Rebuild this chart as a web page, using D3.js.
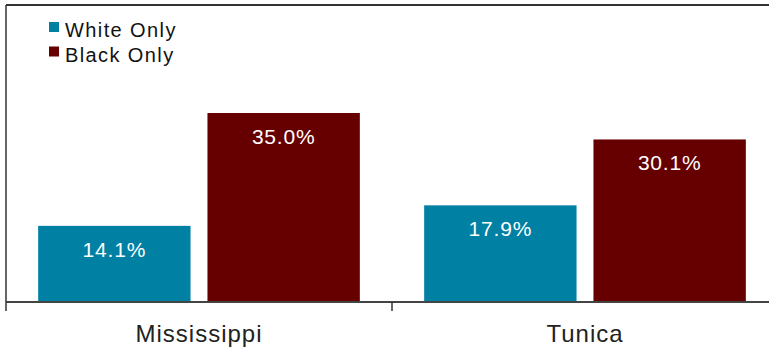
<!DOCTYPE html>
<html><head><meta charset="utf-8">
<script src="https://cdn.jsdelivr.net/npm/d3@7"></script>
<style>body{margin:0;background:#fff;}svg{display:block;font-family:"Liberation Sans",Arial,sans-serif;}</style>
</head><body>
<svg id="c" width="769" height="351"></svg>
<script>
const categories = ["Mississippi", "Tunica"];
const seriesNames = ["White Only", "Black Only"];
const whiteOnly = [14.1, 17.9];
const blackOnly = [35.0, 30.1];
const colors = ["#0080a3", "#660000"];

const svg = d3.select("#c");
const pLeft = 6, pRight = 778, pTop = 5, pBottom = 302;
const x0 = d3.scaleBand().domain(categories).range([pLeft, pRight]).paddingInner(0).paddingOuter(0);
const x1 = d3.scaleBand().domain(seriesNames).range([0, x0.bandwidth()]).paddingInner(0.1).paddingOuter(0.19);
const y = d3.scaleLinear().domain([0, 55]).range([pBottom, pTop]);

const series = [whiteOnly, blackOnly];
const data = [];
categories.forEach((c, i) => seriesNames.forEach((s, j) => data.push({c, s, j, v: series[j][i]})));

svg.selectAll("rect.bar").data(data).enter().append("rect")
  .attr("class", "bar")
  .attr("x", d => x0(d.c) + x1(d.s))
  .attr("width", x1.bandwidth())
  .attr("y", d => y(d.v))
  .attr("height", d => y(0) - y(d.v))
  .attr("fill", d => colors[d.j]);

svg.selectAll("text.val").data(data).enter().append("text")
  .attr("x", d => x0(d.c) + x1(d.s) + x1.bandwidth() / 2)
  .attr("y", d => y(d.v) + 31)
  .attr("text-anchor", "middle")
  .attr("fill", "#fff")
  .attr("font-size", 21)
  .attr("letter-spacing", 0.8)
  .text(d => d.v.toFixed(1) + "%");

// frame
svg.append("line").attr("x1", pLeft).attr("x2", 769).attr("y1", pTop).attr("y2", pTop).attr("stroke", "#333").attr("stroke-width", 2);
svg.append("line").attr("x1", pLeft).attr("x2", pLeft).attr("y1", pTop).attr("y2", pBottom).attr("stroke", "#333").attr("stroke-width", 1.5);

// x axis
const ax = svg.append("g").attr("transform", `translate(0,${pBottom})`);
ax.append("line").attr("x1", pLeft).attr("x2", 769).attr("y1", 0).attr("y2", 0).attr("stroke", "#444").attr("stroke-width", 2);
const boundaries = [x0(categories[0]), x0(categories[1])];
ax.selectAll("line.tk").data(boundaries).enter().append("line")
  .attr("x1", d => d).attr("x2", d => d).attr("y1", 0).attr("y2", 9)
  .attr("stroke", "#333").attr("stroke-width", 1.5);
ax.selectAll("text.cat").data(categories).enter().append("text")
  .attr("x", d => x0(d) + x0.bandwidth() / 2)
  .attr("y", 40)
  .attr("text-anchor", "middle")
  .attr("fill", "#222")
  .attr("font-size", 24)
  .attr("letter-spacing", 1)
  .text(d => d);

// legend
const lg = svg.append("g").attr("transform", "translate(49,21)");
seriesNames.forEach((s, j) => {
  const g = lg.append("g").attr("transform", `translate(0,${j * 24.5})`);
  g.append("rect").attr("y", 1).attr("width", 10).attr("height", 10).attr("fill", colors[j]);
  g.append("text").attr("x", 16).attr("y", 16).attr("font-size", 20).attr("letter-spacing", 1.4).attr("fill", "#111").text(s);
});
</script>
</body></html>
